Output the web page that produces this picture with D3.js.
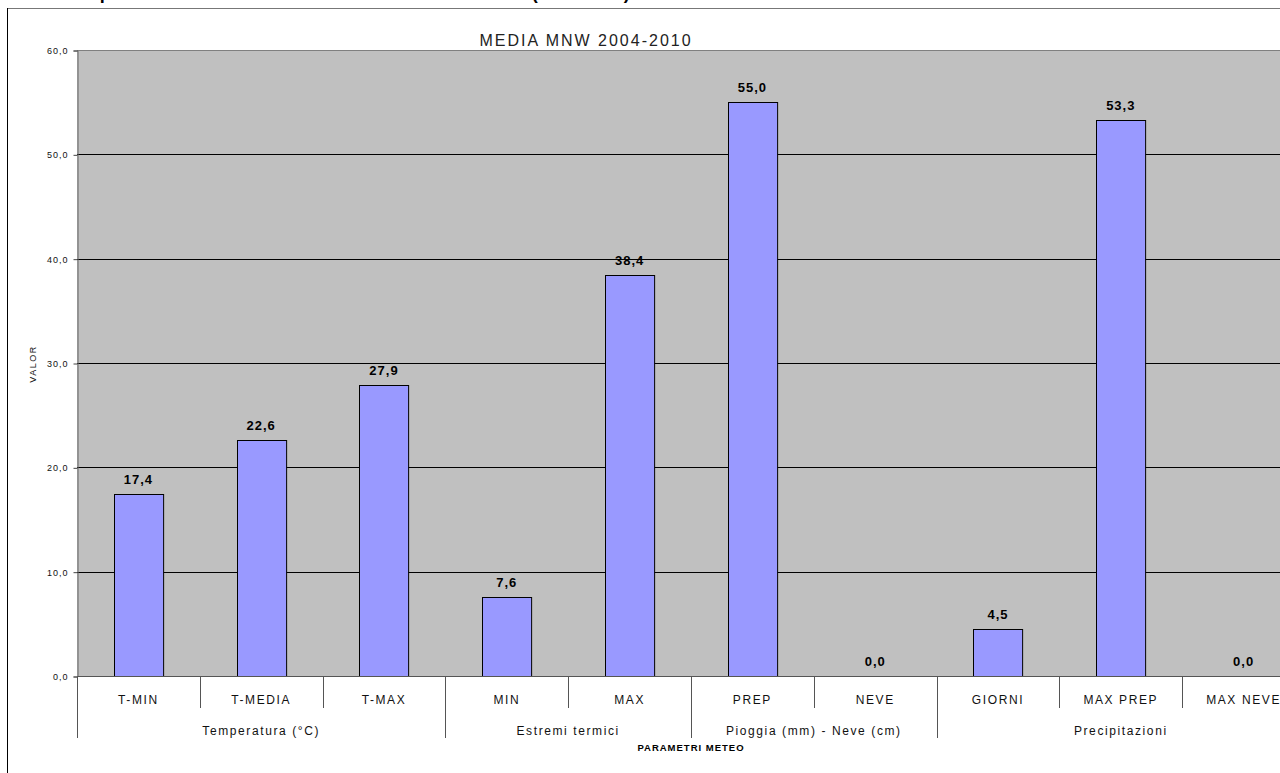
<!DOCTYPE html>
<html>
<head>
<meta charset="utf-8">
<script src="https://cdn.jsdelivr.net/npm/d3@7"></script>
<style>
  body { margin: 0; background: #fff; overflow: hidden; }
  #chart svg { display: block; font-family: "Liberation Sans", Arial, sans-serif; }
</style>
</head>
<body>
<div id="chart"></div>
<script>
var categories = ["T-MIN", "T-MEDIA", "T-MAX", "MIN", "MAX", "PREP", "NEVE", "GIORNI", "MAX PREP", "MAX NEVE"];
var values = [17.4, 22.6, 27.9, 7.6, 38.4, 55.0, 0.0, 4.5, 53.3, 0.0];
var groupNames = ["Temperatura (°C)", "Estremi termici", "Pioggia (mm) - Neve (cm)", "Precipitazioni"];
var groupSizes = [3, 2, 2, 3];
var yTicks = [0, 10, 20, 30, 40, 50, 60];

(function(){
    var width = 1280;
    var height = 773;

    var left = 77, right = 1305, top = 50, bottom = 676;

    var svg = d3.select("#chart")
      .append("svg")
      .attr("width", width)
      .attr("height", height);

    var fmt = function(v) { return d3.format(".1f")(v).replace(".", ","); };

    // slots (category separators) and bars
    var slot = d3.scaleBand().domain(categories).range([left, right]).padding(0);
    var x = d3.scaleBand().domain(categories).range([left, right])
      .paddingInner(0.6).paddingOuter(0.3);
    var y = d3.scaleLinear().domain([0, 60]).range([bottom, top]);

    // cut-off page title (only descenders visible)
    svg.append("text")
      .attr("x", 64)
      .attr("y", -1)
      .attr("font-size", 18)
      .attr("font-weight", "bold")
      .attr("fill", "#000")
      .text("Temperature medie mensili della stazione meteo MNW (2004-2010)");

    // outer frame
    svg.append("line")
      .attr("x1", 7).attr("x2", width).attr("y1", 8.5).attr("y2", 8.5)
      .attr("stroke", "#777");
    svg.append("line")
      .attr("x1", 7.5).attr("x2", 7.5).attr("y1", 8).attr("y2", height)
      .attr("stroke", "#000");

    // chart title
    svg.append("text")
      .attr("x", 586)
      .attr("y", 46)
      .attr("text-anchor", "middle")
      .attr("font-size", 16)
      .attr("letter-spacing", 2)
      .attr("fill", "#222")
      .text("MEDIA MNW 2004-2010");

    // plot area
    svg.append("rect")
      .attr("x", left)
      .attr("y", top)
      .attr("width", right - left)
      .attr("height", bottom - top)
      .attr("fill", "#c0c0c0");

    svg.append("line")
      .attr("x1", left).attr("x2", right).attr("y1", top + 0.5).attr("y2", top + 0.5)
      .attr("stroke", "#808080");

    // gridlines
    svg.append("g")
      .selectAll("line")
      .data(yTicks.filter(function(d){ return d > 0 && d < 60; }))
      .enter().append("line")
      .attr("x1", left).attr("x2", right)
      .attr("y1", function(d){ return Math.round(y(d)) + 0.5; })
      .attr("y2", function(d){ return Math.round(y(d)) + 0.5; })
      .attr("stroke", "#000");

    // y axis
    var yAxis = svg.append("g")
      .attr("transform", "translate(" + (left + 0.5) + ",0.5)")
      .call(d3.axisLeft(y).tickValues(yTicks).tickSize(4).tickPadding(5).tickFormat(fmt));
    yAxis.select(".domain").attr("stroke", "#666");
    yAxis.selectAll(".tick line").attr("stroke", "#444");
    yAxis.selectAll("text")
      .attr("font-family", "Liberation Sans, Arial, sans-serif")
      .attr("font-size", 9)
      .attr("letter-spacing", 1)
      .attr("fill", "#111");

    svg.append("text")
      .attr("transform", "translate(36,364) rotate(-90)")
      .attr("text-anchor", "middle")
      .attr("font-size", 9)
      .attr("letter-spacing", 1.5)
      .attr("fill", "#111")
      .text("VALOR");

    // bars
    svg.append("g")
      .selectAll("rect")
      .data(values)
      .enter().append("rect")
      .attr("x", function(d, i){ return Math.round(x(categories[i])) + 0.5; })
      .attr("y", function(d){ return Math.round(y(d)) + 0.5; })
      .attr("width", x.bandwidth())
      .attr("height", function(d){ return bottom - Math.round(y(d)); })
      .attr("fill", "#9999ff")
      .attr("stroke", "#000")
      .attr("stroke-width", 1);

    // value labels
    svg.append("g")
      .selectAll("text")
      .data(values)
      .enter().append("text")
      .attr("x", function(d, i){ return x(categories[i]) + x.bandwidth() / 2; })
      .attr("y", function(d){ return y(d) - 10; })
      .attr("text-anchor", "middle")
      .attr("font-size", 13)
      .attr("font-weight", "bold")
      .attr("letter-spacing", 1)
      .attr("fill", "#000")
      .text(fmt);

    // x axis line
    svg.append("line")
      .attr("x1", left).attr("x2", right).attr("y1", bottom + 0.5).attr("y2", bottom + 0.5)
      .attr("stroke", "#555");

    // group boundaries
    var bounds = [0];
    groupSizes.forEach(function(s, i){ bounds.push(bounds[i] + s); });

    // category separators
    svg.append("g")
      .selectAll("line")
      .data(d3.range(categories.length + 1))
      .enter().append("line")
      .attr("x1", function(i){ return Math.round(left + i * slot.step()) + 0.5; })
      .attr("x2", function(i){ return Math.round(left + i * slot.step()) + 0.5; })
      .attr("y1", bottom)
      .attr("y2", function(i){ return bounds.indexOf(i) >= 0 ? 738 : 708; })
      .attr("stroke", "#555");

    svg.append("g")
      .selectAll("text")
      .data(categories)
      .enter().append("text")
      .attr("x", function(d){ return slot(d) + slot.bandwidth() / 2; })
      .attr("y", 704)
      .attr("text-anchor", "middle")
      .attr("font-size", 12)
      .attr("letter-spacing", 1.6)
      .attr("fill", "#111")
      .text(function(d){ return d; });

    svg.append("g")
      .selectAll("text")
      .data(groupNames)
      .enter().append("text")
      .attr("x", function(d, i){ return left + (bounds[i] + bounds[i + 1]) / 2 * slot.step(); })
      .attr("y", 735)
      .attr("text-anchor", "middle")
      .attr("font-size", 12)
      .attr("letter-spacing", 1.6)
      .attr("fill", "#111")
      .text(function(d){ return d; });

    svg.append("text")
      .attr("x", (left + right) / 2)
      .attr("y", 751)
      .attr("text-anchor", "middle")
      .attr("font-size", 9.5)
      .attr("font-weight", "bold")
      .attr("letter-spacing", 1)
      .attr("fill", "#000")
      .text("PARAMETRI METEO");
})();
</script>
</body>
</html>
